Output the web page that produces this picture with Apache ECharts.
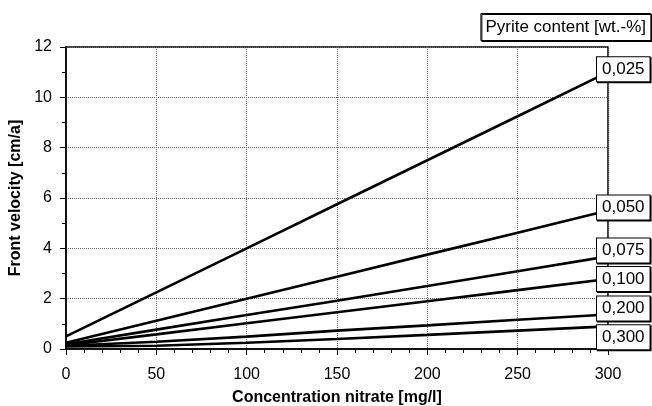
<!DOCTYPE html>
<html>
<head>
<meta charset="utf-8">
<script src="https://cdn.jsdelivr.net/npm/echarts@6/dist/echarts.min.js"></script>
<style>
  html, body { margin: 0; padding: 0; background: #fff; }
  #chart { width: 652px; height: 406px; }
</style>
</head>
<body>
<div id="chart"></div>
<script>
// Front velocity vs. nitrate concentration for several pyrite contents
const concentration = [0, 50, 100, 150, 200, 250, 300];           // mg/l
const velocity025 = [0.50, 2.25, 4.00, 5.75, 7.50, 9.25, 11.00];  // cm/a
const velocity050 = [0.25, 1.12, 2.00, 2.87, 3.75, 4.62, 5.50];
const velocity075 = [0.19, 0.77, 1.35, 1.92, 2.50, 3.09, 3.68];
const velocity100 = [0.15, 0.58, 1.02, 1.46, 1.90, 2.34, 2.78];
const velocity200 = [0.13, 0.29, 0.49, 0.73, 0.94, 1.16, 1.37];
const velocity300 = [0.10, 0.13, 0.25, 0.40, 0.56, 0.73, 0.90];
const pyriteContents = ['0,025', '0,050', '0,075', '0,100', '0,200', '0,300'];
const xTicks = [0, 50, 100, 150, 200, 250, 300];
const yTicks = [0, 2, 4, 6, 8, 10, 12];

const allVelocities = [velocity025, velocity050, velocity075, velocity100, velocity200, velocity300];
// vertical nudges (px) that keep the end-of-line tags from overlapping
const tagShift = [-3, -3, -6, 0, -6, 11];

const FONT = '"Liberation Sans", Arial, sans-serif';

const series = allVelocities.map((vals, i) => ({
  name: pyriteContents[i],
  type: 'line',
  data: concentration.map((c, j) => [c, vals[j]]),
  showSymbol: false,
  smooth: false,
  lineStyle: { color: '#000', width: 2.6 },
  z: 3,
  endLabel: {
    show: true,
    formatter: pyriteContents[i],
    distance: 0,
    offset: [-11, tagShift[i]],
    color: '#000',
    fontFamily: FONT,
    fontSize: 17,
    lineHeight: 19,
    backgroundColor: '#fff',
    borderColor: '#000',
    borderWidth: 1,
    padding: [3, 5, 2, 5],
    shadowColor: '#000',
    shadowOffsetX: 1,
    shadowOffsetY: 1,
    shadowBlur: 0
  }
}));

const chart = echarts.init(document.getElementById('chart'), null, { renderer: 'canvas' });
chart.setOption({
  animation: false,
  backgroundColor: '#fff',
  title: {
    text: 'Pyrite content [wt.-%]',
    right: 1,
    top: 13,
    padding: [5, 5, 4, 5],
    borderColor: '#000',
    borderWidth: 1,
    backgroundColor: '#fff',
    shadowColor: '#000',
    shadowOffsetX: 1,
    shadowOffsetY: 1,
    shadowBlur: 0,
    textStyle: { fontFamily: FONT, fontSize: 17, fontWeight: 'normal', color: '#000', lineHeight: 19 }
  },
  grid: {
    left: 66, top: 47, width: 542, height: 302,
    containLabel: false,
    outerBoundsMode: 'none',
    show: true, borderColor: '#000', borderWidth: 1.5, backgroundColor: 'transparent'
  },
  xAxis: {
    type: 'value',
    min: xTicks[0], max: xTicks[xTicks.length - 1], interval: xTicks[1] - xTicks[0],
    name: 'Concentration nitrate [mg/l]',
    nameLocation: 'middle',
    nameGap: 41,
    nameTextStyle: { fontFamily: FONT, fontSize: 16, fontWeight: 'bold', color: '#000' },
    axisLine: { show: true, lineStyle: { color: '#000', width: 1.5 } },
    axisTick: { show: true, length: 6, lineStyle: { color: '#000', width: 1 } },
    minorTick: { show: true, splitNumber: 5, length: 4, lineStyle: { color: '#000', width: 1 } },
    axisLabel: { margin: 18, fontFamily: FONT, fontSize: 16, color: '#000' },
    splitLine: { show: true, lineStyle: { color: '#666', width: 1, type: [1, 1] } }
  },
  yAxis: {
    type: 'value',
    min: yTicks[0], max: yTicks[yTicks.length - 1], interval: yTicks[1] - yTicks[0],
    name: 'Front velocity [cm/a]',
    nameLocation: 'middle',
    nameGap: 34,
    nameTextStyle: { fontFamily: FONT, fontSize: 16, fontWeight: 'bold', color: '#000' },
    axisLine: { show: true, lineStyle: { color: '#000', width: 1.5 } },
    axisTick: { show: true, length: 6, lineStyle: { color: '#000', width: 1 } },
    minorTick: { show: true, splitNumber: 2, length: 4, lineStyle: { color: '#000', width: 1 } },
    axisLabel: { margin: 14, fontFamily: FONT, fontSize: 16, color: '#000' },
    splitLine: { show: true, lineStyle: { color: '#666', width: 1, type: [1, 1] } }
  },
  series: series
});
</script>
</body>
</html>
